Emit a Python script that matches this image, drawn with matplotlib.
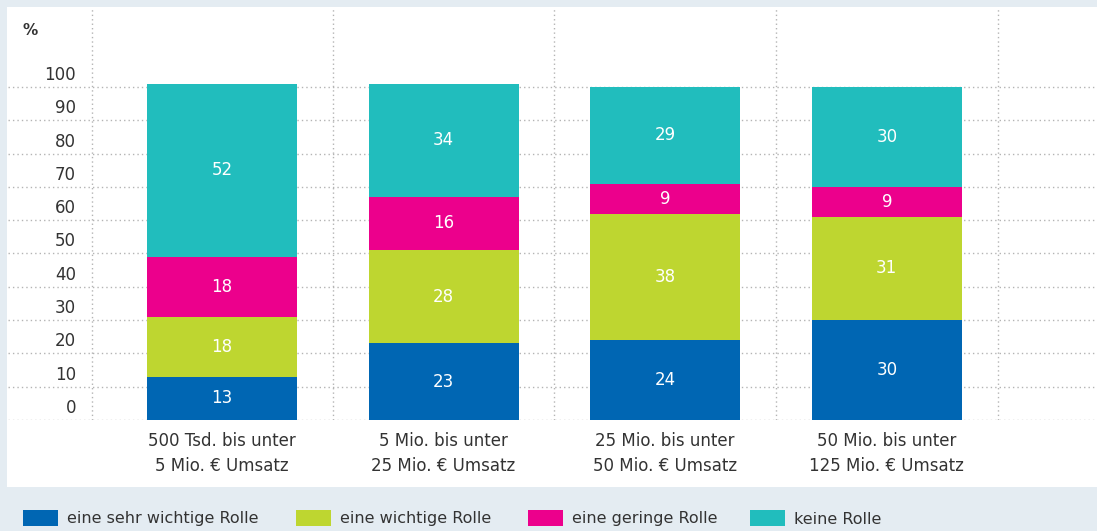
import matplotlib.pyplot as plt
import numpy as np
from matplotlib.patches import Rectangle
import matplotlib.transforms as mtransforms

# Daten (von unten nach oben gestapelt)
kategorien = ["500 Tsd. bis unter\n5 Mio. € Umsatz",
              "5 Mio. bis unter\n25 Mio. € Umsatz",
              "25 Mio. bis unter\n50 Mio. € Umsatz",
              "50 Mio. bis unter\n125 Mio. € Umsatz"]
sehr_wichtig = [13, 23, 24, 30]
wichtig = [18, 28, 38, 31]
gering = [18, 16, 9, 9]
keine = [52, 34, 29, 30]
serien_namen = ["eine sehr wichtige Rolle", "eine wichtige Rolle",
                "eine geringe Rolle", "keine Rolle"]
farben = ["#0066b3", "#bed630", "#ec008c", "#21bdbd"]
y_ticks = [0, 10, 20, 30, 40, 50, 60, 70, 80, 90, 100]

W, H = 1097, 531
plt.rcParams['font.family'] = ['DejaVu Sans']
fig = plt.figure(figsize=(W / 100, H / 100), dpi=100, facecolor="#e4ecf2")

# weisses Feld
fig.patches.append(Rectangle((7 / W, 1 - 487 / H), 1, 480 / H,
                             transform=fig.transFigure, facecolor="white",
                             edgecolor="none", zorder=-5))

ax = fig.add_axes([8 / W, 1 - 420 / H, 1 - 8 / W, 413 / H])
ax.set_facecolor("none")
step = 221.6
x0 = 222
ax.set_xlim((8 - x0) / step, (W - x0) / step)
ax.set_ylim(0, 124)
for s in ax.spines.values():
    s.set_visible(False)

grid_kw = dict(color="#b4b4b4", lw=1, linestyle=(0, (1, 2.2)), zorder=1)
ax.hlines(y_ticks, *ax.get_xlim(), **grid_kw)
ax.vlines([(92 - x0) / step, 0.5, 1.5, 2.5, 3.5], 0, 124, **grid_kw)

x = np.arange(len(kategorien))
bottom = np.zeros(len(kategorien))
for werte, farbe in zip([sehr_wichtig, wichtig, gering, keine], farben):
    werte = np.array(werte)
    ax.bar(x, werte, width=150 / step, bottom=bottom, color=farbe, zorder=2)
    for xi, b, v in zip(x, bottom, werte):
        ax.text(xi, b + v / 2, str(v), ha="center", va="center",
                color="white", fontsize=12, zorder=3)
    bottom += werte

# y-Beschriftung
trans = mtransforms.blended_transform_factory(fig.transFigure, ax.transData)
for t in y_ticks:
    ax.text(76 / W, t + 3.6, str(t), transform=trans, ha="right", va="center",
            fontsize=12, color="#333333")
fig.text(30 / W, 1 - 31 / H, "%", ha="center", va="center", fontsize=11,
         fontweight="bold", color="#333333")

ax.set_yticks([])
ax.set_xticks(x)
ax.set_xticklabels(kategorien, fontsize=12, color="#333333", linespacing=1.45)
ax.tick_params(axis="x", length=0, pad=9)

# Legende
leg_x = [23, 296, 528, 750]
for lx, name, farbe in zip(leg_x, serien_namen, farben):
    fig.patches.append(Rectangle((lx / W, 1 - 526 / H), 35 / W, 16 / H,
                                 transform=fig.transFigure, facecolor=farbe,
                                 edgecolor="none"))
    fig.text((lx + 44) / W, 1 - 519 / H, name, ha="left", va="center",
             fontsize=11.5, color="#333333")

fig.savefig("out.png", dpi=100, facecolor=fig.get_facecolor())
